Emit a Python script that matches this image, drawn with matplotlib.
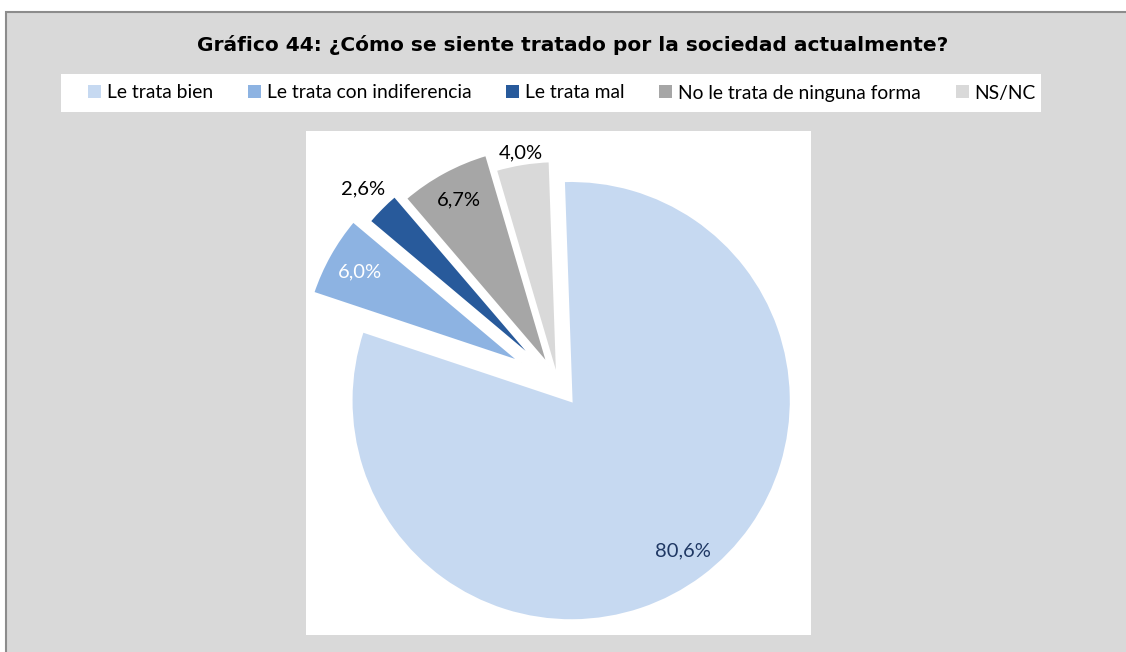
import numpy as np
import matplotlib
matplotlib.use('Agg')
import matplotlib.pyplot as plt
from matplotlib.patches import Rectangle

# survey answers (%)
categorias = ['Le trata bien', 'Le trata con indiferencia', 'Le trata mal',
              'No le trata de ninguna forma', 'NS/NC']
porcentajes = [80.6, 6.0, 2.6, 6.7, 4.0]
colores = ['#c6d9f1', '#8db3e2', '#285a9b', '#a6a6a6', '#d9d9d9']
color_etiqueta = ['#1f3864', '#ffffff', '#000000', '#000000', '#000000']
explosion = [0.10, 0.19, 0.13, 0.09, 0.01]
dist_etiqueta = [0.85, 0.84, 1.12, 0.855, 1.05]

W, H = 1126, 652
fig = plt.figure(figsize=(W / 100, H / 100), dpi=100)
fig.patch.set_facecolor('white')

# gray chart area, white plot area and legend strip
fig.patches.append(Rectangle((6 / W, -0.1), 1.2, 1.1 - 12 / H, transform=fig.transFigure,
                             facecolor='#d9d9d9', edgecolor='#8c8c8c', lw=1.5, zorder=0))
fig.patches.append(Rectangle((306 / W, 1 - 635 / H), 505 / W, 504 / H, transform=fig.transFigure,
                             facecolor='white', edgecolor='none', zorder=1))
fig.patches.append(Rectangle((61 / W, 1 - 112 / H), 980 / W, 38 / H, transform=fig.transFigure,
                             facecolor='white', edgecolor='none', zorder=1))

fig.text(573 / W, 1 - 45 / H, 'Gráfico 44: ¿Cómo se siente tratado por la sociedad actualmente?',
         ha='center', va='center', fontsize=14.5, fontweight='bold', family='DejaVu Sans')

ax = fig.add_axes([306 / W, 1 - 635 / H, 505 / W, 504 / H])
ax.set_zorder(2)
wedges, _ = ax.pie(porcentajes, colors=colores, explode=explosion, startangle=92,
                   counterclock=False, radius=1,
                   wedgeprops=dict(edgecolor='white', linewidth=2.0))
ax.set_xlim(-252 / 220, 253 / 220)
ax.set_ylim(-252 / 220, 252 / 220)
ax.set_aspect('equal')
ax.axis('off')

for w, v, d, c in zip(wedges, porcentajes, dist_etiqueta, color_etiqueta):
    mid = np.deg2rad((w.theta1 + w.theta2) / 2)
    cx, cy = w.center
    ax.text(cx + d * np.cos(mid), cy + d * np.sin(mid), f'{v:.1f}'.replace('.', ',') + '%',
            ha='center', va='center', fontsize=14.5, color=c, family='Lato')

handles = [Rectangle((0, 0), 1, 1, facecolor=c, edgecolor='none') for c in colores]
leg = fig.legend(handles, categorias, loc='center', bbox_to_anchor=(562 / W, 1 - 93 / H),
                 ncol=5, frameon=False, handlelength=0.67, handleheight=0.67,
                 handletextpad=0.31, columnspacing=1.8, prop={'family': 'Lato', 'size': 13.9})
leg.set_zorder(3)

fig.savefig('out.png', dpi=100)
